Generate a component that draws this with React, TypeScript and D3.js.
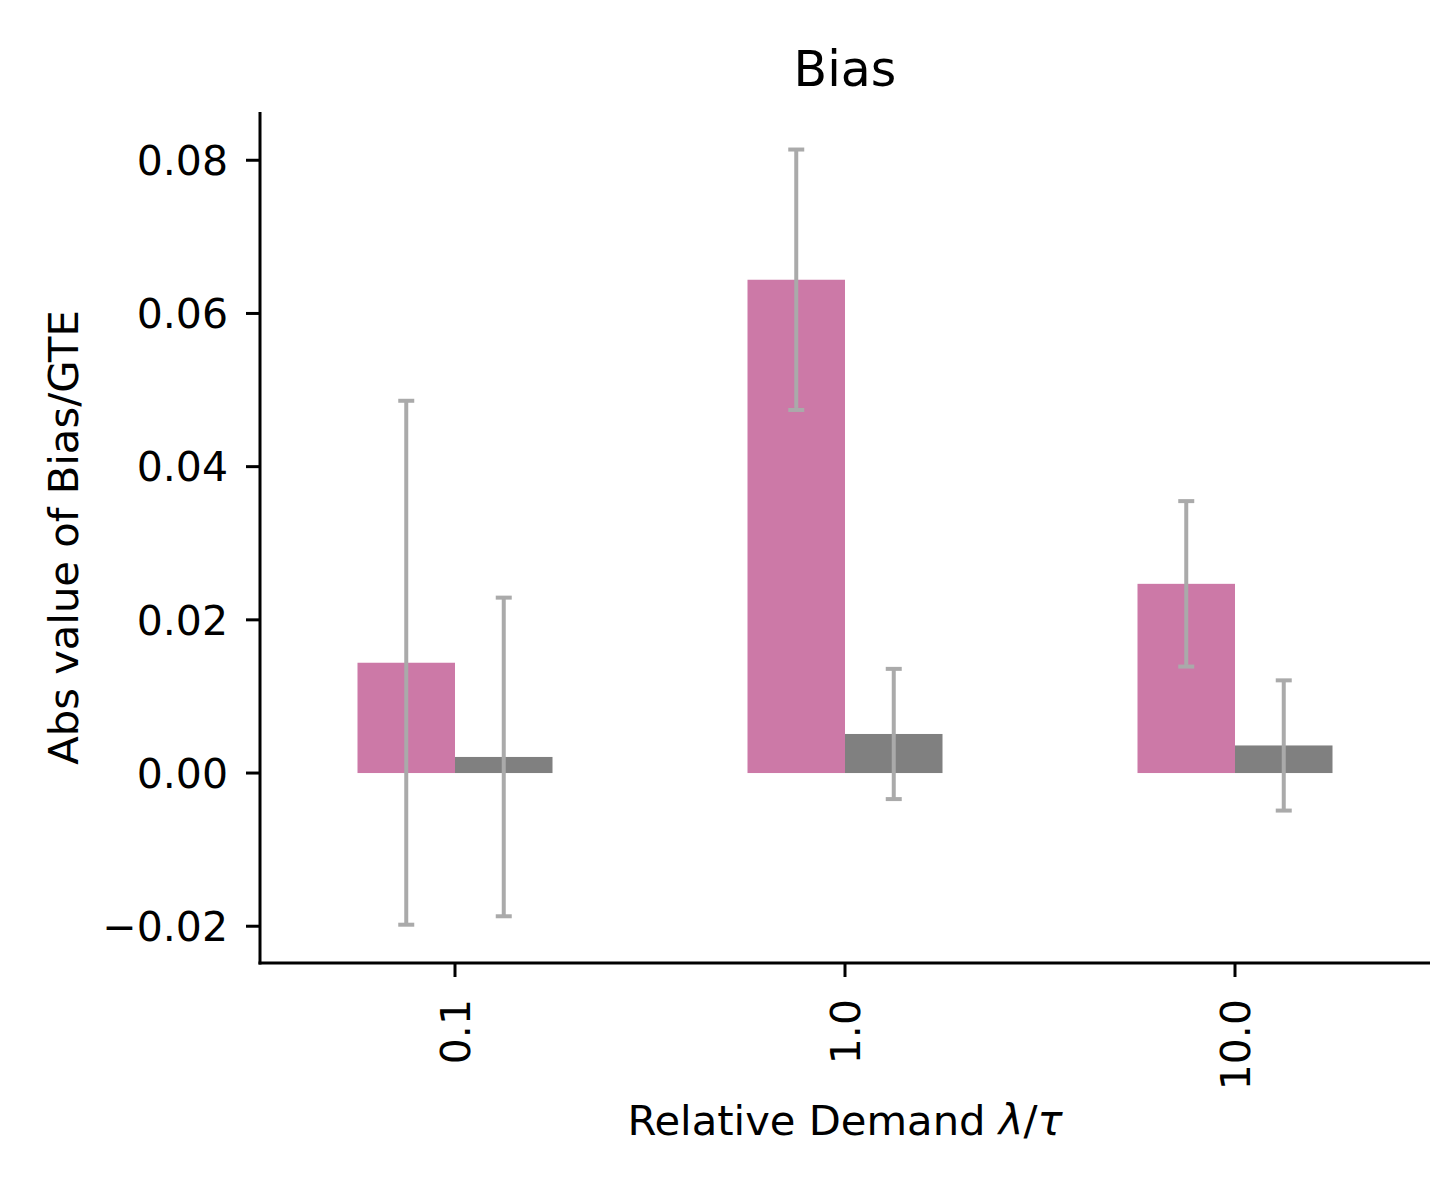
import React from "react";
import * as d3 from "d3";

const categories = ["0.1", "1.0", "10.0"];
const pinkMeans = [0.0144, 0.0644, 0.0247];
const pinkErrors = [0.0342, 0.017, 0.0108];
const grayMeans = [0.0021, 0.0051, 0.0036];
const grayErrors = [0.0208, 0.0085, 0.0085];
const yTicks = [-0.02, 0.0, 0.02, 0.04, 0.06, 0.08];

const W = 1434;
const H = 1200;
const left = 260;
const right = 1430;
const top = 112;
const bottom = 963;
const FONT = "DejaVu Sans, sans-serif";

export default function App() {
  const x = d3.scaleLinear().domain([-0.5, 2.5]).range([left, right]);
  const y = d3.scaleLinear().domain([-0.0248, 0.0863]).range([bottom, top]);
  const barW = 0.25;
  const fmt = (v: number) => {
    const s = d3.format(".2f")(v);
    return s.replace("-", "\u2212");
  };

  const series = [
    { means: pinkMeans, errs: pinkErrors, color: "#CC79A7", off: -barW },
    { means: grayMeans, errs: grayErrors, color: "#808080", off: 0 },
  ];

  return (
    <svg
      width={W}
      height={H}
      viewBox={`0 0 ${W} ${H}`}
      style={{ position: "absolute", left: 0, top: 0, display: "block", background: "#fff" }}
      fontFamily={FONT}
    >
      <rect x={0} y={0} width={W} height={H} fill="#fff" />
      {series.map((s, si) =>
        s.means.map((m, i) => {
          const x0 = x(i + s.off);
          const x1 = x(i + s.off + barW);
          const yv = y(m);
          const y0 = y(0);
          return (
            <rect
              key={`b${si}-${i}`}
              x={x0}
              y={Math.min(yv, y0)}
              width={x1 - x0}
              height={Math.abs(y0 - yv)}
              fill={s.color}
            />
          );
        })
      )}
      {series.map((s, si) =>
        s.means.map((m, i) => {
          const cx = x(i + s.off + barW / 2);
          const yHi = y(m + s.errs[i]);
          const yLo = y(m - s.errs[i]);
          return (
            <g key={`e${si}-${i}`} stroke="#AAAAAA" strokeWidth={4}>
              <line x1={cx} x2={cx} y1={yHi} y2={yLo} />
              <line x1={cx - 8} x2={cx + 8} y1={yHi} y2={yHi} />
              <line x1={cx - 8} x2={cx + 8} y1={yLo} y2={yLo} />
            </g>
          );
        })
      )}
      {/* spines */}
      <line x1={left} x2={left} y1={top} y2={bottom + 1.5} stroke="#000" strokeWidth={3} />
      <line x1={left - 1.5} x2={right} y1={bottom} y2={bottom} stroke="#000" strokeWidth={3} />
      {/* y ticks */}
      {yTicks.map((t) => (
        <g key={`yt${t}`}>
          <line x1={left - 14} x2={left} y1={y(t)} y2={y(t)} stroke="#000" strokeWidth={3} />
          <text x={left - 32} y={y(t)} dy="0.36em" textAnchor="end" fontSize={41} fill="#000">
            {fmt(t)}
          </text>
        </g>
      ))}
      {/* x ticks */}
      {categories.map((c, i) => (
        <g key={`xt${c}`}>
          <line x1={x(i)} x2={x(i)} y1={bottom} y2={bottom + 14} stroke="#000" strokeWidth={3} />
          <text
            transform={`translate(${x(i) + 15},${bottom + 36}) rotate(-90)`}
            textAnchor="end"
            fontSize={41}
            fill="#000"
          >
            {c}
          </text>
        </g>
      ))}
      <text x={(left + right) / 2} y={1135} textAnchor="middle" fontSize={41.7} fill="#000">
        Relative Demand <tspan fontStyle="italic">λ</tspan>/<tspan fontStyle="italic">τ</tspan>
      </text>
      <text
        transform={`translate(78,${(top + bottom) / 2}) rotate(-90)`}
        textAnchor="middle"
        fontSize={41.7}
        fill="#000"
      >
        Abs value of Bias/GTE
      </text>
      <text x={(left + right) / 2} y={86} textAnchor="middle" fontSize={49} fill="#000">
        Bias
      </text>
    </svg>
  );
}
